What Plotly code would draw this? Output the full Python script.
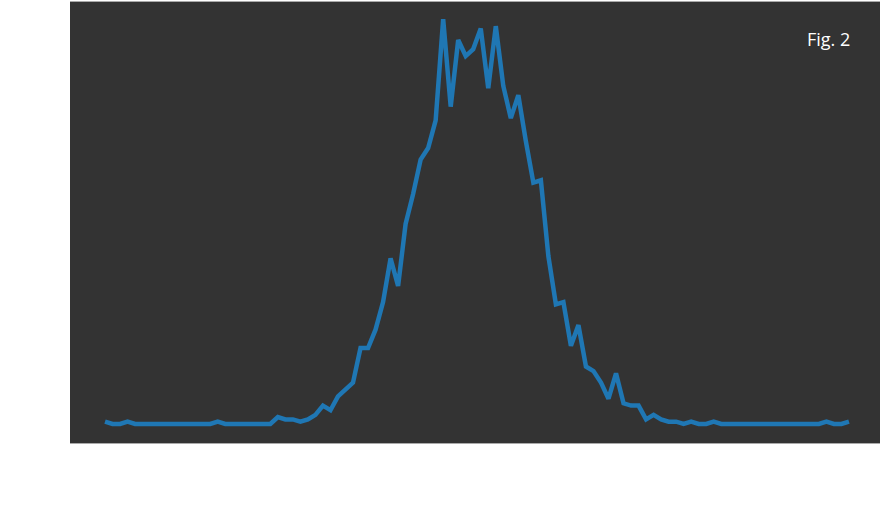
import plotly.graph_objects as go

# bin index (0..99) and counts
bins = list(range(100))
counts = [
    1, 0, 0, 1, 0, 0, 0, 0, 0, 0,
    0, 0, 0, 0, 0, 1, 0, 0, 0, 0,
    0, 0, 0, 3, 2, 2, 1, 2, 4, 8,
    6, 12, 15, 18, 33, 33, 41, 53, 72, 60,
    87, 100, 115, 120, 132, 176, 138, 167, 160, 163,
    172, 146, 173, 147, 133, 143, 123, 105, 106, 73,
    52, 53, 34, 43, 25, 23, 18, 11, 22, 9,
    8, 8, 2, 4, 2, 1, 1, 0, 1, 0,
    0, 1, 0, 0, 0, 0, 0, 0, 0, 0,
    0, 0, 0, 0, 0, 0, 1, 0, 0, 1,
]
label = "Fig. 2"

fig = go.Figure()
fig.add_trace(go.Scatter(
    x=bins, y=counts, mode="lines",
    line=dict(color="#1f77b4", width=4.5),
    hoverinfo="skip", showlegend=False,
))

fig.add_annotation(
    text=label, xref="paper", yref="paper",
    x=(852 - 70) / 810, y=(443 - 39) / 441, xanchor="right", yanchor="middle",
    showarrow=False,
    font=dict(family="Open Sans", size=18, color="white", weight=500),
)

fig.update_layout(
    width=883, height=512,
    margin=dict(l=70, r=3, t=2, b=69),
    paper_bgcolor="white",
    plot_bgcolor="#333333",
    xaxis=dict(range=[-4.66, 103.13], showgrid=False, zeroline=False,
               showticklabels=False, showline=True, linecolor="#aaaaaa",
               linewidth=1, mirror=True, ticks=""),
    yaxis=dict(range=[-8.26, 183.5], showgrid=False, zeroline=False,
               showticklabels=False, showline=False, ticks=""),
)

fig.write_html("out.html", config={"displayModeBar": False},
               post_script="document.body.style.margin='0';")
